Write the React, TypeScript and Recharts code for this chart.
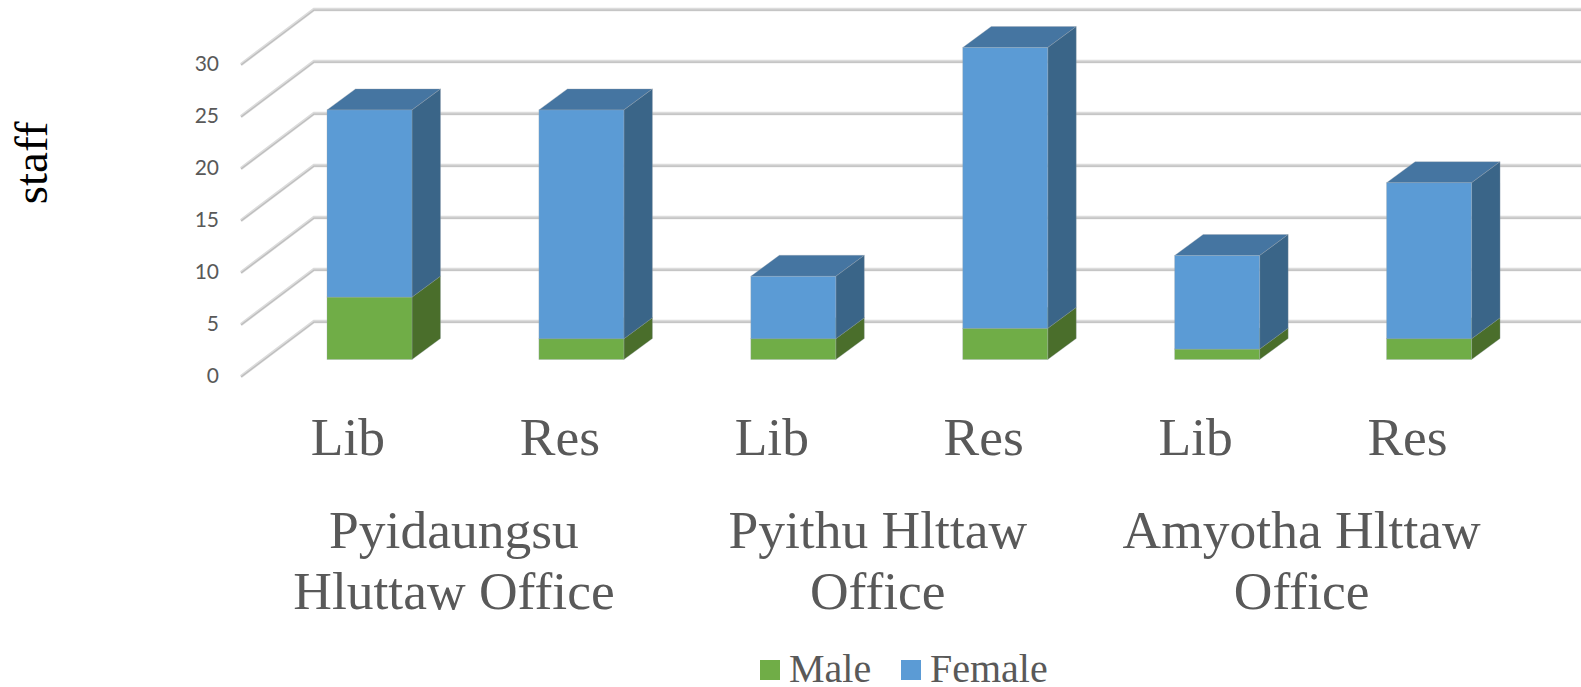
import React from 'react';
import { BarChart, Bar, XAxis, YAxis, Legend, CartesianGrid } from 'recharts';

const categories = ['Lib', 'Res', 'Lib', 'Res', 'Lib', 'Res'];
const groupLines = [
  ['Pyidaungsu', 'Hluttaw Office'],
  ['Pyithu Hlttaw', 'Office'],
  ['Amyotha Hlttaw', 'Office'],
];
const maleStaff = [6, 2, 2, 3, 1, 2];
const femaleStaff = [18, 22, 6, 27, 9, 15];
const yTicks = [0, 5, 10, 15, 20, 25, 30];

const rows = categories.map((name, i) => ({
  key: `${name}-${i}`,
  name,
  Male: maleStaff[i],
  Female: femaleStaff[i],
}));

const serif = '"Liberation Serif", serif';
const textColor = '#595959';

// depth of each 3D box
const DX = 28.5;
const DY = 21;

const Box3D = (props: any) => {
  const { x, y, width, height, fill, topFill, sideFill } = props;
  const r = x + width;
  const b = y + height;
  const edge = { stroke: '#9aa5ad', strokeOpacity: 0.4, strokeWidth: 0.8 };
  return (
    <g>
      <polygon points={`${x},${y} ${x + DX},${y - DY} ${r + DX},${y - DY} ${r},${y}`} fill={topFill} {...edge} />
      <polygon points={`${r},${y} ${r + DX},${y - DY} ${r + DX},${b - DY} ${r},${b}`} fill={sideFill} {...edge} />
      <rect x={x} y={y} width={width} height={height} fill={fill} {...edge} />
    </g>
  );
};

// floor diagonal and back wall line for one value
const WallLine = (props: any) => {
  const y = props.y1;
  const points = `241,${y + 17} 314,${y - 38} 1581,${y - 38}`;
  return (
    <g key={props.key}>
      <polyline points={points} fill="none" stroke="#dcdcdc" strokeWidth={3.4} />
      <polyline points={points} fill="none" stroke="#bdbdbd" strokeWidth={1.3} transform="translate(0,0.6)" />
    </g>
  );
};

const YTick = ({ y, payload }: any) => (
  <text x={219} y={y + 15} textAnchor="end" dominantBaseline="central" fontFamily="Lato" fontSize={21} fill={textColor}>
    {payload.value}
  </text>
);

const XTick = (props: any) => {
  const { x, index } = props;
  const group = index % 2 === 0 ? groupLines[index / 2] : null;
  return (
    <g fontFamily={serif} fontSize={53.5} fill={textColor} textAnchor="middle">
      <text x={x - 22} y={455}>{categories[index]}</text>
      {group && <text x={x + 84} y={548}>{group[0]}</text>}
      {group && <text x={x + 84} y={609}>{group[1]}</text>}
    </g>
  );
};

const LegendBox = ({ payload }: any) => {
  const lefts = [760, 901];
  return (
    <div style={{ height: 687, position: 'relative' }}>
      {(payload || []).map((item: any, i: number) => (
        <div key={item.value}>
          <div style={{ position: 'absolute', left: lefts[i], top: 660, width: 20, height: 20, background: item.color }} />
          <div style={{ position: 'absolute', left: lefts[i] + 29, top: 650, fontFamily: serif, fontSize: 40, lineHeight: '37px', color: textColor, whiteSpace: 'nowrap' }}>
            {item.value}
          </div>
        </div>
      ))}
    </div>
  );
};

const StaffLabel = () => (
  <text transform="translate(47,163) rotate(-90)" textAnchor="middle" fontFamily={serif} fontSize={47} fill="#000">
    staff
  </text>
);

export default function App() {
  return (
    <div style={{ position: 'absolute', left: 0, top: 0, width: 1581, height: 687, background: '#fff', overflow: 'hidden' }}>
      <BarChart
        width={1581}
        height={687}
        data={rows}
        margin={{ top: 47.5, right: 45.5, bottom: 326.5, left: 263 }}
      >
        <CartesianGrid vertical={false} horizontal={(p: any) => <WallLine {...p} />} />
        <YAxis
          type="number"
          domain={[0, 30]}
          ticks={yTicks}
          width={1}
          axisLine={false}
          tickLine={false}
          tick={<YTick />}
          label={<StaffLabel />}
        />
        <XAxis
          dataKey="key"
          height={1}
          interval={0}
          axisLine={false}
          tickLine={false}
          tick={<XTick />}
        />
        <Legend
          itemSorter={null}
          verticalAlign="middle"
          wrapperStyle={{ left: 0, top: 0, width: 1581, height: 687, pointerEvents: 'none' }}
          content={<LegendBox />}
        />
        <Bar
          dataKey="Male"
          stackId="staff"
          fill="#70ad47"
          barSize={85}
          isAnimationActive={false}
          shape={(p: any) => <Box3D {...p} topFill="#5a8c39" sideFill="#4a6e2b" />}
        />
        <Bar
          dataKey="Female"
          stackId="staff"
          fill="#5b9bd5"
          barSize={85}
          isAnimationActive={false}
          shape={(p: any) => <Box3D {...p} topFill="#4575a1" sideFill="#3a6588" />}
        />
      </BarChart>
    </div>
  );
}
